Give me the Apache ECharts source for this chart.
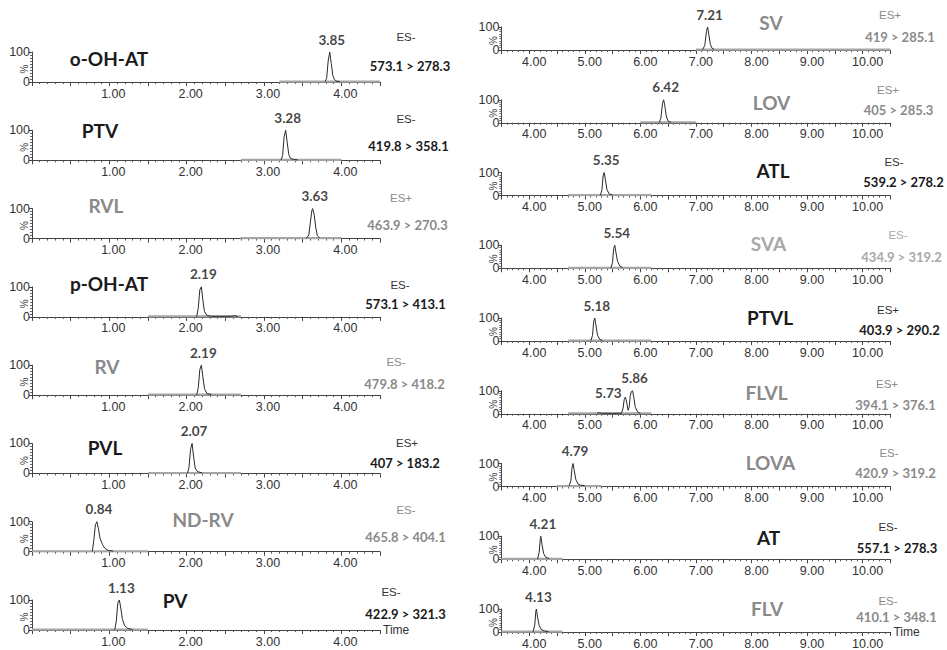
<!DOCTYPE html>
<html>
<head>
<meta charset="utf-8">
<script src="https://cdn.jsdelivr.net/npm/echarts@6/dist/echarts.min.js"></script>
<style>
html,body{margin:0;padding:0;background:#fff;}
#chart{width:947px;height:650px;}
</style>
</head>
<body>
<div id="chart"></div>
<script>
// ---------------- DATA ----------------
const leftNames = ['o-OH-AT', 'PTV', 'RVL', 'p-OH-AT', 'RV', 'PVL', 'ND-RV', 'PV'];
const leftModes = ['ES-', 'ES-', 'ES+', 'ES-', 'ES-', 'ES+', 'ES-', 'ES-'];
const leftTransitions = ['573.1 > 278.3', '419.8 > 358.1', '463.9 > 270.3', '573.1 > 413.1',
  '479.8 > 418.2', '407 > 183.2', '465.8 > 404.1', '422.9 > 321.3'];
const leftTone = ['dark', 'dark', 'gray', 'dark', 'gray', 'dark', 'gray', 'dark'];
const leftPeaks = [[[3.85, 100]], [[3.28, 100]], [[3.63, 100]], [[2.19, 100]],
  [[2.19, 100]], [[2.07, 100]], [[0.84, 100]], [[1.13, 100]]];
const leftWindows = [[3.2, 4.5], [2.7, 4.0], [2.7, 4.0], [1.5, 2.7], [1.5, 2.7], [1.5, 2.7], [0, 1.5], [0, 1.5]];
const leftTraces = [
  [[3.79,1],[3.81,12],[3.83,70],[3.85,100],[3.87,62],[3.89,22],[3.91,8],[3.94,3],[3.98,1]],
  [[3.22,1],[3.24,15],[3.26,78],[3.28,100],[3.30,60],[3.32,20],[3.34,7],[3.38,3],[3.44,1]],
  [[3.55,1],[3.58,12],[3.60,55],[3.62,95],[3.63,100],[3.65,78],[3.67,35],[3.69,10],[3.72,2]],
  [[2.13,1],[2.15,30],[2.17,90],[2.19,100],[2.21,55],[2.23,18],[2.26,5],[2.32,2],[2.58,2],[2.62,4],[2.66,1]],
  [[2.13,1],[2.15,25],[2.17,85],[2.19,100],[2.21,60],[2.23,22],[2.26,6],[2.32,2]],
  [[2.01,1],[2.03,20],[2.05,80],[2.07,100],[2.09,55],[2.11,18],[2.14,6],[2.20,2]],
  [[0.78,1],[0.80,40],[0.82,90],[0.84,100],[0.86,75],[0.88,45],[0.91,25],[0.94,12],[0.98,5],[1.05,2]],
  [[1.07,1],[1.09,30],[1.11,90],[1.13,100],[1.15,70],[1.17,35],[1.20,14],[1.24,5],[1.30,2]]
];
const leftTicks = [1, 2, 3, 4];

const rightNames = ['SV', 'LOV', 'ATL', 'SVA', 'PTVL', 'FLVL', 'LOVA', 'AT', 'FLV'];
const rightModes = ['ES+', 'ES+', 'ES-', 'ES-', 'ES+', 'ES+', 'ES-', 'ES-', 'ES-'];
const rightTransitions = ['419 > 285.1', '405 > 285.3', '539.2 > 278.2', '434.9 > 319.2',
  '403.9 > 290.2', '394.1 > 376.1', '420.9 > 319.2', '557.1 > 278.3', '410.1 > 348.1'];
const rightTone = ['gray', 'gray', 'dark', 'light', 'dark', 'gray', 'gray', 'dark', 'gray'];
const rightPeaks = [[[7.21, 100]], [[6.42, 100]], [[5.35, 100]], [[5.54, 100]], [[5.18, 100]],
  [[5.73, 72], [5.86, 100]], [[4.79, 100]], [[4.21, 100]], [[4.13, 100]]];
const rightWindows = [[7.0, 10.5], [6.0, 7.0], [4.7, 6.2], [4.7, 6.2], [4.7, 6.2], [4.7, 6.2], [4.5, 5.3], [3.5, 4.6], [3.5, 4.6]];
const rightTraces = [
  [[7.12,1],[7.16,20],[7.19,80],[7.21,100],[7.23,70],[7.26,25],[7.29,8],[7.33,2]],
  [[6.34,1],[6.37,20],[6.40,85],[6.42,100],[6.44,75],[6.47,25],[6.50,7],[6.55,2]],
  [[5.28,1],[5.31,25],[5.33,85],[5.35,100],[5.37,70],[5.40,25],[5.44,7],[5.50,2]],
  [[5.47,1],[5.50,25],[5.52,85],[5.54,100],[5.56,70],[5.59,30],[5.63,10],[5.68,3]],
  [[5.11,1],[5.14,25],[5.16,85],[5.18,100],[5.20,70],[5.23,25],[5.27,7],[5.32,2]],
  [[5.22,2],[5.26,5],[5.30,2],[5.66,2],[5.69,25],[5.71,62],[5.73,72],[5.75,55],[5.78,15],[5.80,30],
   [5.82,80],[5.84,97],[5.86,100],[5.88,75],[5.91,28],[5.95,8],[6.00,2]],
  [[4.72,3],[4.75,25],[4.77,80],[4.79,100],[4.81,70],[4.84,30],[4.88,10],[4.93,5],[5.00,4]],
  [[4.15,1],[4.18,30],[4.20,90],[4.21,100],[4.23,65],[4.26,25],[4.30,8],[4.36,3]],
  [[4.07,1],[4.10,30],[4.12,90],[4.13,100],[4.15,65],[4.18,28],[4.22,10],[4.28,4],[4.35,2]]
];
const rightTicks = [4, 5, 6, 7, 8, 9, 10];

// ---------------- LAYOUT / STYLE ----------------
const TONES = { dark: '#1a1a1a', gray: '#8a8a8a', light: '#a8a8a8' };
const NUM_FONT = 'Lato, "Open Sans", sans-serif';
const AX_FONT = '"Liberation Sans", Arial, sans-serif';

const leftCol = { left: 32, width: 348, height: 30, min: 0, max: 4.5, base0: 82, step: 78.29, labelShift: 8 };
const rightCol = { left: 501.4, width: 389, height: 23, min: 3.5, max: 10.5, base0: 50, step: 72.75, labelShift: 10 };

// text centres [x, y]
const leftNamePos = [[109,58],[100,130],[106,205],[109,283],[107,366],[105,447],[203,519],[175,600]];
const leftModePos = [[406,37],[406,119],[401,198],[400,285],[396,362],[407,443],[406,510],[391,592]];
const leftTransPos = [[410,65.5],[408.5,145.5],[407.5,225],[405.5,304],[404.5,384],[405,463],[405.5,537],[405.5,614]];
const rightNamePos = [[771,22],[771.5,102],[773,170],[768.5,243],[770,317],[766.5,392],[770.5,462],[768.5,537],[767,608]];
const rightModePos = [[890,15],[888,90],[894,162],[898,235],[888,310],[887,384],[889,453],[888,527],[888,601]];
const rightTransPos = [[900,37],[898.5,110],[903.5,182],[901.5,257],[899.5,330],[895.5,405],[895.5,473],[897,548],[896.5,617]];

const grid = [], xAxis = [], yAxis = [], series = [], graphic = [];

function centeredText(x, y, text, fill, font, rotation) {
  return { type: 'text', x: x, y: y, rotation: rotation || 0, silent: true,
    style: { text: text, fill: fill, font: font,
      align: 'center', verticalAlign: 'middle', textAlign: 'center', textVerticalAlign: 'middle' } };
}

function addColumn(col, names, modes, trans, tones, peaks, windows, traces, ticks, namePos, modePos, transPos) {
  const n = names.length;
  for (let i = 0; i < n; i++) {
    const gi = grid.length;
    const base = col.base0 + col.step * i;
    grid.push({ left: col.left, width: col.width, top: base - col.height, height: col.height });
    const last = i === n - 1;
    xAxis.push({
      type: 'value', gridIndex: gi, min: col.min, max: col.max, interval: 0.5,
      name: last ? 'Time' : '', nameLocation: 'end', nameGap: 3,
      nameTextStyle: { fontFamily: AX_FONT, fontSize: 12, color: '#333', padding: [14, 0, 0, 0] },
      axisLine: { show: true, onZero: false, lineStyle: { color: '#444', width: 1 } },
      axisTick: { show: true, length: 4, lineStyle: { color: '#444' } },
      minorTick: { show: true, splitNumber: 5, length: 2, lineStyle: { color: '#555' } },
      splitLine: { show: false },
      axisLabel: {
        margin: 5, fontFamily: AX_FONT, fontSize: 12.5, color: '#333', padding: [0, 0, 0, col.labelShift],
        formatter: v => ticks.indexOf(Math.round(v * 100) / 100) >= 0 ? v.toFixed(2) : ''
      }
    });
    yAxis.push({
      type: 'value', gridIndex: gi, min: 0, max: 100, interval: 100,
      axisLine: { show: true, lineStyle: { color: '#444', width: 1 } },
      axisTick: { show: true, length: 3, lineStyle: { color: '#444' } },
      minorTick: { show: true, splitNumber: 10, length: 2, lineStyle: { color: '#666' } },
      splitLine: { show: false },
      axisLabel: { margin: 2, fontFamily: AX_FONT, fontSize: 12.5, color: '#333' }
    });
    // "%" unit, rotated, beside the y axis
    graphic.push(centeredText(col.left - 8, base - col.height / 2 + 2, '%', '#444', '10px ' + AX_FONT, Math.PI / 2));
    // acquisition window baseline
    series.push({
      type: 'line', xAxisIndex: gi, yAxisIndex: gi, silent: true, symbol: 'none',
      data: [[windows[i][0], 1.5], [windows[i][1], 1.5]],
      lineStyle: { color: '#a5a5a5', width: 2.2 }
    });
    // peak trace
    series.push({
      type: 'line', xAxisIndex: gi, yAxisIndex: gi, silent: true, symbol: 'none',
      data: traces[i], lineStyle: { color: '#2a2a2a', width: 1 }
    });
    // peak retention-time labels
    series.push({
      type: 'scatter', xAxisIndex: gi, yAxisIndex: gi, silent: true, symbolSize: 1,
      itemStyle: { color: 'rgba(0,0,0,0)' },
      data: peaks[i].map(p => {
        const item = { value: p };
        if (p[1] < 100) item.label = { offset: [-17, 8] };
        return item;
      }),
      label: {
        show: true, position: 'top', distance: 5, offset: [2, 0],
        fontFamily: NUM_FONT, fontWeight: 'bold', fontSize: 13.5, color: '#111',
        formatter: p => p.value[0].toFixed(2)
      }
    });
    const c = TONES[tones[i]];
    graphic.push(centeredText(namePos[i][0], namePos[i][1], names[i], c, 'bold 19px ' + NUM_FONT));
    graphic.push(centeredText(modePos[i][0], modePos[i][1], modes[i], tones[i] === 'dark' ? '#333' : c, '11.5px ' + AX_FONT));
    graphic.push(centeredText(transPos[i][0], transPos[i][1], trans[i], c, 'bold 13px ' + NUM_FONT));
  }
}

addColumn(leftCol, leftNames, leftModes, leftTransitions, leftTone, leftPeaks, leftWindows, leftTraces,
  leftTicks, leftNamePos, leftModePos, leftTransPos);
addColumn(rightCol, rightNames, rightModes, rightTransitions, rightTone, rightPeaks, rightWindows, rightTraces,
  rightTicks, rightNamePos, rightModePos, rightTransPos);

const chart = echarts.init(document.getElementById('chart'), null, { renderer: 'svg' });
chart.setOption({
  animation: false,
  backgroundColor: '#ffffff',
  grid, xAxis, yAxis, series, graphic
});
</script>
</body>
</html>
